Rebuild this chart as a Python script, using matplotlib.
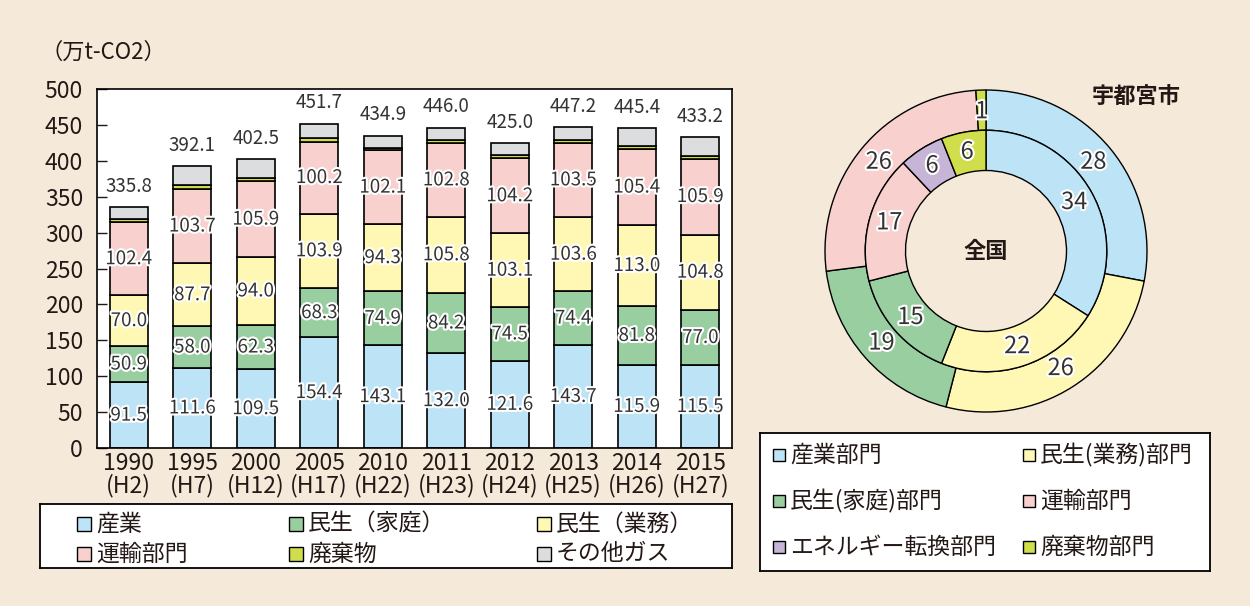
import matplotlib
matplotlib.use('Agg')
import matplotlib.pyplot as plt
import matplotlib.patheffects as pe
from matplotlib.patches import Rectangle
import numpy as np

plt.rcParams['font.family'] = ['Noto Sans CJK JP', 'DejaVu Sans']
plt.rcParams['text.color'] = '#231815'

# --- bar chart data (万t-CO2) ---
years = ['1990\n(H2)', '1995\n(H7)', '2000\n(H12)', '2005\n(H17)', '2010\n(H22)',
         '2011\n(H23)', '2012\n(H24)', '2013\n(H25)', '2014\n(H26)', '2015\n(H27)']
industry = [91.5, 111.6, 109.5, 154.4, 143.1, 132.0, 121.6, 143.7, 115.9, 115.5]
household = [50.9, 58.0, 62.3, 68.3, 74.9, 84.2, 74.5, 74.4, 81.8, 77.0]
business = [70.0, 87.7, 94.0, 103.9, 94.3, 105.8, 103.1, 103.6, 113.0, 104.8]
transport = [102.4, 103.7, 105.9, 100.2, 102.1, 102.8, 104.2, 103.5, 105.4, 105.9]
waste = [4.5, 5.0, 5.0, 5.0, 4.0, 4.0, 4.0, 4.0, 5.0, 4.0]
other_gas = [16.5, 26.1, 25.8, 19.9, 16.5, 17.2, 17.6, 18.0, 24.3, 26.0]
totals = [335.8, 392.1, 402.5, 451.7, 434.9, 446.0, 425.0, 447.2, 445.4, 433.2]

bar_names = ['産業', '民生（家庭）', '民生（業務）', '運輸部門', '廃棄物', 'その他ガス']

# --- donut data (%) ---
sectors = ['産業部門', '民生(業務)部門', '民生(家庭)部門', '運輸部門',
           'エネルギー転換部門', '廃棄物部門']
national = [34, 22, 15, 17, 6, 6]
utsunomiya = [28, 26, 19, 26, 0, 1]

BG = '#f5eada'
C_IND = '#bde3f7'
C_HOME = '#99cea1'
C_BUS = '#fff8b4'
C_TRN = '#f8d0ce'
C_WST = '#cfde4a'
C_OTH = '#dcddde'
C_ENE = '#c7b5d8'
TXT = '#231815'

W, H = 1250, 606
fig = plt.figure(figsize=(W / 100, H / 100), dpi=100, facecolor=BG)


def fbox(x0, y0, x1, y1):
    return [x0 / W, 1 - y1 / H, (x1 - x0) / W, (y1 - y0) / H]


def pixel_legend(box, items, size, fontsize):
    # box and item positions are in figure pixels (y down)
    x0, y0, x1, y1 = box
    lax = fig.add_axes(fbox(x0, y0, x1, y1))
    lax.set_xlim(x0, x1)
    lax.set_ylim(y1, y0)
    lax.set_facecolor('white')
    lax.set_xticks([])
    lax.set_yticks([])
    for s in lax.spines.values():
        s.set_color('black')
        s.set_linewidth(1.3)
    for xm, yc, col, label in items:
        lax.add_patch(Rectangle((xm, yc - size / 2), size, size, facecolor=col,
                                edgecolor='black', linewidth=1.0))
        lax.text(xm + size + 5, yc, label, ha='left', va='center', fontsize=fontsize)


outline = [pe.withStroke(linewidth=3, foreground='white')]

# ---------------- stacked bars ----------------
ax = fig.add_axes(fbox(97, 89, 732, 448))
ax.set_facecolor('white')
x = np.arange(len(years))
series = [industry, household, business, transport, waste, other_gas]
colors = [C_IND, C_HOME, C_BUS, C_TRN, C_WST, C_OTH]
bottom = np.zeros(len(years))
for i, (vals, col) in enumerate(zip(series, colors)):
    vals = np.array(vals)
    ax.bar(x, vals, bottom=bottom, width=0.6, color=col, edgecolor='black', linewidth=1.2)
    if i < 4:
        for xi, b, v in zip(x, bottom, vals):
            ax.text(xi, b + v / 2, f'{v:.1f}', ha='center', va='center', fontsize=13.5,
                    color='#333333', path_effects=outline)
    bottom = bottom + vals

for xi, t in zip(x, totals):
    ax.annotate(f'{t:.1f}', (xi, t), xytext=(0, 15), textcoords='offset points',
                ha='center', va='center', fontsize=13.5, color='#333333')

ax.set_xlim(-0.5, len(years) - 0.5)
ax.set_ylim(0, 500)
ax.set_yticks(np.arange(0, 501, 50))
ax.tick_params(axis='y', direction='in', length=7, width=1, labelsize=16.5, pad=10, colors=TXT)
ax.tick_params(axis='x', length=0, labelsize=16.5, pad=3, colors=TXT)
ax.set_xticks(x)
ax.set_xticklabels(years, linespacing=0.95)
for s in ax.spines.values():
    s.set_color('black')
    s.set_linewidth(1.2)

fig.text(40 / W, 1 - 52 / H, '（万t-CO2）', fontsize=16, va='center', ha='left')

# legend below the bars, row-major like the original
bx = [77, 289, 537]
by = [524, 554]
bar_items = [(bx[k % 3], by[k // 3], c, n) for k, (c, n) in enumerate(zip(colors, bar_names))]
bar_items = [(bx[0], by[0], C_IND, bar_names[0]), (bx[1], by[0], C_HOME, bar_names[1]),
             (bx[2], by[0], C_BUS, bar_names[2]), (bx[0], by[1], C_TRN, bar_names[3]),
             (bx[1], by[1], C_WST, bar_names[4]), (bx[2], by[1], C_OTH, bar_names[5])]
pixel_legend((40, 504, 732, 568), bar_items, 14, 16.5)

# ---------------- donut ----------------
cx, cy, R = 986, 251, 161
half = 172
axd = fig.add_axes(fbox(cx - half, cy - half, cx + half, cy + half))
axd.set_facecolor('none')

all_colors = [C_IND, C_BUS, C_HOME, C_TRN, C_ENE, C_WST]
out_vals = [v for v in utsunomiya if v > 0]
out_cols = [c for v, c in zip(utsunomiya, all_colors) if v > 0]

wedges_out, _ = axd.pie(out_vals, colors=out_cols, radius=1.0, startangle=90, counterclock=False,
                        wedgeprops=dict(width=0.25, edgecolor='black', linewidth=1.0))
wedges_in, _ = axd.pie(national, colors=all_colors, radius=0.75, startangle=90, counterclock=False,
                       wedgeprops=dict(width=0.25, edgecolor='black', linewidth=1.0))
lim = half / R
axd.set_xlim(-lim, lim)
axd.set_ylim(-lim, lim)
axd.set_aspect('equal')
axd.axis('off')


def label_ring(wedges, vals, r):
    for w, v in zip(wedges, vals):
        ang = np.deg2rad((w.theta1 + w.theta2) / 2)
        axd.text(r * np.cos(ang), r * np.sin(ang), str(v), ha='center', va='center',
                 fontsize=17, color='#333333', path_effects=outline)


label_ring(wedges_out, out_vals, 0.865)
label_ring(wedges_in, national, 0.625)
axd.text(0, 0.0, '全国', ha='center', va='center', fontsize=16, fontweight='bold')
fig.text(1136 / W, 1 - 97 / H, '宇都宮市', ha='center', va='center', fontsize=16, fontweight='bold')

dx = [773, 1023]
dy = [455, 501, 547]
donut_items = [(dx[0], dy[0], all_colors[0], sectors[0]), (dx[1], dy[0], all_colors[1], sectors[1]),
               (dx[0], dy[1], all_colors[2], sectors[2]), (dx[1], dy[1], all_colors[3], sectors[3]),
               (dx[0], dy[2], all_colors[4], sectors[4]), (dx[1], dy[2], all_colors[5], sectors[5])]
pixel_legend((760, 433, 1210, 571), donut_items, 12, 16.5)

fig.savefig('out.png', dpi=100, facecolor=BG)
